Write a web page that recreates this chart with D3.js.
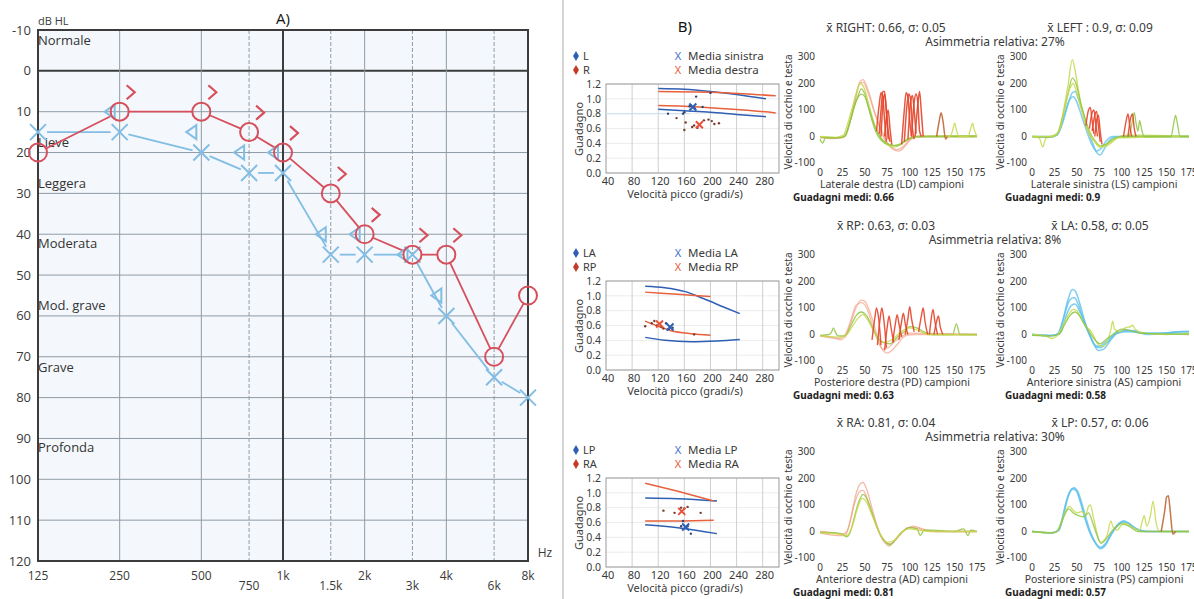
<!DOCTYPE html>
<html lang="en">
<head>
<meta charset="utf-8">
<title>Audiogramma e vHIT</title>
<script src="https://d3js.org/d3.v7.min.js"></script>
<style>
  body { margin: 0; background: #ffffff; }
  svg { display: block; }
  .aud text { font-family: "Open Sans", sans-serif; fill: #3a3a3a; }
  .vh text { font-family: "Noto Sans", "Open Sans", sans-serif; fill: #3a3a3a; }
</style>
</head>
<body>
<script>
// ---------- A) audiogram data ----------
var freqs = [125, 250, 500, 750, 1000, 1500, 2000, 3000, 4000, 6000, 8000];
var rightAC = [20, 10, 10, 15, 20, 30, 40, 45, 45, 70, 55];   // red circles
var leftAC = [15, 15, 20, 25, 25, 45, 45, 45, 60, 75, 80];    // blue crosses
var boneFreqs = [250, 500, 750, 1000, 1500, 2000, 3000, 4000];
var rightBC = [5, 5, 10, 15, 25, 35, 40, 40];                 // red >
var leftBC = [10, 15, 20, 20, 40, 40, 45, 55];                // blue <
var dbTicks = [-10, 0, 10, 20, 30, 40, 50, 60, 70, 80, 90, 100, 110, 120];
var mainFreqs = [125, 250, 500, 1000, 2000, 4000, 8000];
var mainFreqLabels = ["125", "250", "500", "1k", "2k", "4k", "8k"];
var midFreqs = [750, 1500, 3000, 6000];
var midFreqLabels = ["750", "1.5k", "3k", "6k"];
var classNames = ["Normale", "Lieve", "Leggera", "Moderata", "Mod. grave", "Grave", "Profonda"];
var classLevels = [-7.5, 17.5, 27.5, 42.2, 57.5, 72.5, 92.3];

// ---------- B) gain scatter data [velocity, gain] ----------
var velTicks = [40, 80, 120, 160, 200, 240, 280];
var gainTicks = [0, 0.2, 0.4, 0.6, 0.8, 1.0, 1.2];

var g1Legend = ["L", "R", "Media sinistra", "Media destra"];
var g1BlueUp = [[120, 1.14], [160, 1.13], [200, 1.1], [240, 1.06], [285, 1.0]];
var g1RedUp = [[120, 1.1], [200, 1.09], [250, 1.07], [300, 1.04]];
var g1BlueLow = [[120, 0.86], [160, 0.84], [200, 0.82], [240, 0.79], [285, 0.76]];
var g1RedLow = [[120, 0.91], [160, 0.9], [200, 0.88], [250, 0.85], [300, 0.81]];
var g1DotsL = [[135, 0.8], [158, 0.8], [160, 0.82], [170, 0.91], [176, 0.87], [168, 0.9], [178, 1.03], [188, 0.89], [200, 1.08]];
var g1DotsR = [[148, 0.74], [162, 0.68], [160, 0.58], [172, 0.62], [175, 0.64], [180, 0.61], [190, 0.71], [197, 0.72], [202, 0.7], [206, 0.66], [213, 0.67]];
var g1MeanL = [173, 0.89], g1MeanR = [183, 0.65];

var g2Legend = ["LA", "RP", "Media LA", "Media RP"];
var g2BlueUp = [[100, 1.13], [130, 1.11], [160, 1.06], [190, 0.96], [220, 0.85], [245, 0.76]];
var g2RedUp = [[100, 1.05], [150, 1.02], [200, 0.99]];
var g2BlueLow = [[100, 0.44], [130, 0.4], [170, 0.38], [210, 0.39], [245, 0.41]];
var g2RedLow = [[100, 0.66], [120, 0.59], [140, 0.53], [170, 0.49], [200, 0.47]];
var g2DotsL = [[132, 0.63], [136, 0.55], [142, 0.57]];
var g2DotsR = [[100, 0.59], [110, 0.63], [114, 0.66], [118, 0.6], [125, 0.58], [128, 0.56], [175, 0.48]];
var g2MeanL = [138, 0.58], g2MeanR = [122, 0.62];

var g3Legend = ["LP", "RA", "Media LP", "Media RA"];
var g3BlueUp = [[100, 0.93], [150, 0.92], [210, 0.89]];
var g3RedUp = [[100, 1.13], [150, 1.02], [205, 0.89]];
var g3BlueLow = [[100, 0.57], [150, 0.53], [210, 0.45]];
var g3RedLow = [[100, 0.62], [150, 0.62], [205, 0.63]];
var g3DotsL = [[158, 0.62], [165, 0.55], [170, 0.45], [155, 0.55]];
var g3DotsR = [[128, 0.76], [145, 0.73], [155, 0.8], [160, 0.79], [165, 0.81], [185, 0.73]];
var g3MeanL = [162, 0.54], g3MeanR = [156, 0.75];

// ---------- B) impulse traces [sample, deg/s] ----------
var sampleTicks = [0, 25, 50, 75, 100, 125, 150, 175];
var velTraceTicks = [-100, 0, 100, 200, 300];

var ldEye = [
  [[0,-5],[15,-8],[25,-5],[30,20],[35,80],[40,150],[45,210],[48,215],[52,190],[56,150],[60,100],[64,60],[68,20],[72,-10],[78,-35],[85,-50],[90,-45],[95,-30],[100,-10],[105,0],[120,0],[175,0]],
  [[0,-3],[20,-5],[28,5],[33,50],[38,120],[44,200],[48,205],[53,170],[58,120],[63,70],[68,30],[74,-20],[80,-45],[88,-55],[94,-40],[100,-15],[108,0],[175,0]]
];
var ldHead = [
  [[0,-2],[20,-4],[27,0],[32,40],[37,100],[42,150],[46,180],[50,160],[54,110],[58,60],[62,20],[66,-5],[72,-25],[80,-35],[88,-30],[95,-15],[102,-3],[110,0],[175,0]],
  [[0,0],[18,-3],[26,5],[31,50],[36,110],[41,170],[45,200],[49,185],[53,140],[57,90],[61,40],[66,5],[72,-20],[82,-40],[90,-30],[98,-10],[106,0],[175,0]],
  [[0,-10],[3,-25],[6,-5],[20,-5],[28,0],[34,60],[40,130],[46,160],[50,150],[55,100],[60,50],[65,10],[70,-15],[78,-30],[86,-35],[94,-20],[102,-5],[112,0],[175,2]],
  [[140,0],[145,0],[148,25],[150,50],[152,25],[155,0],[165,0],[168,30],[170,50],[172,25],[175,0]]
];
var ldSac = [
  [[63,20],[66,120],[68,165],[70,150],[72,60],[74,-20]],
  [[66,10],[68,100],[70,170],[72,170],[74,90],[76,-10]],
  [[68,0],[70,120],[72,160],[74,100],[76,20],[78,-20]],
  [[72,0],[74,70],[76,100],[78,30],[80,-30]],
  [[91,-30],[94,100],[96,165],[98,150],[100,60],[102,0]],
  [[94,-20],[97,120],[99,160],[101,140],[103,30],[105,-10]],
  [[98,-10],[101,130],[103,155],[105,100],[107,10]],
  [[102,0],[105,130],[107,160],[109,130],[111,20],[113,0]],
  [[106,0],[109,120],[111,170],[113,90],[115,0]]
];
var ldLate = [[[130,0],[133,60],[135,90],[137,60],[140,-10],[142,0]]];

var lsEye = [
  [[0,-2],[20,-3],[28,5],[34,50],[40,120],[45,165],[48,170],[52,140],[57,90],[62,30],[67,-20],[72,-60],[76,-70],[80,-50],[85,-20],[90,-5],[100,0],[175,0]],
  [[0,0],[22,0],[30,20],[36,80],[42,140],[46,150],[50,130],[55,80],[60,30],[66,-25],[72,-55],[77,-45],[83,-15],[90,0],[175,0]]
];
var lsHead = [
  [[0,0],[8,-5],[12,-40],[15,-10],[20,0],[28,10],[34,80],[40,190],[45,290],[48,250],[52,170],[56,100],[60,40],[65,0],[70,-20],[75,-40],[80,-35],[88,-20],[95,-5],[105,5],[120,5],[175,0]],
  [[0,0],[20,-2],[28,8],[34,70],[40,160],[45,220],[49,200],[54,130],[59,70],[64,20],[70,-15],[76,-35],[82,-30],[90,-10],[100,0],[175,0]],
  [[0,0],[22,0],[30,20],[36,100],[42,180],[46,200],[51,150],[56,90],[61,40],[67,0],[73,-30],[80,-40],[88,-25],[96,-5],[175,0]],
  [[100,0],[108,0],[112,60],[114,90],[116,50],[118,20],[120,60],[122,30],[125,0],[155,0],[158,50],[160,80],[162,50],[165,0],[175,0]]
];
var lsSac = [
  [[60,40],[63,100],[65,110],[67,60],[69,10]],
  [[64,30],[67,90],[69,100],[71,50],[73,0]],
  [[67,20],[70,80],[72,95],[74,40],[76,-20]],
  [[70,0],[72,60],[74,80],[76,20],[78,-30]],
  [[102,0],[105,60],[107,85],[109,40],[111,0]],
  [[107,0],[110,70],[112,85],[114,30],[116,0]]
];

var pdEye = [
  [[0,-5],[15,-10],[22,-20],[28,-10],[34,40],[40,100],[46,130],[50,125],[55,90],[60,40],[65,-20],[70,-60],[75,-70],[80,-60],[88,-30],[95,-5],[105,0],[175,0]],
  [[0,-5],[20,-15],[28,0],[34,50],[40,110],[46,120],[52,100],[58,40],[64,-20],[70,-55],[76,-50],[84,-25],[92,-5],[100,5],[175,0]]
];
var pdHead = [
  [[0,-3],[10,0],[13,10],[15,25],[17,10],[20,-5],[28,-5],[34,30],[40,70],[46,85],[52,70],[58,30],[64,-10],[70,-30],[78,-35],[86,-10],[94,10],[100,30],[108,25],[116,10],[125,0],[148,0],[152,40],[156,0],[175,0]],
  [[0,-5],[22,-10],[30,0],[36,30],[42,60],[48,75],[54,50],[60,10],[66,-20],[72,-30],[80,-20],[90,10],[100,25],[110,15],[120,0],[175,-2]]
];
var pdSac = [
  [[58,-20],[61,60],[63,100],[65,70],[68,-40]],
  [[64,-40],[67,60],[69,100],[71,60],[74,-50]],
  [[72,-60],[75,30],[77,70],[79,30],[82,-30]],
  [[81,-30],[84,40],[86,75],[88,40],[91,-10]],
  [[88,-20],[91,50],[93,80],[95,40],[98,0]],
  [[95,0],[98,60],[100,105],[102,60],[105,10]],
  [[110,10],[113,70],[115,100],[117,50],[120,0]],
  [[122,0],[124,60],[126,95],[128,50],[131,0]],
  [[127,0],[130,50],[132,70],[134,30],[137,0]]
];

var asEye = [
  [[0,0],[20,-5],[28,0],[34,50],[40,130],[45,170],[48,165],[53,120],[58,60],[63,10],[68,-30],[74,-60],[80,-55],[88,-20],[95,5],[105,15],[115,10],[130,0],[150,5],[165,10],[175,10]],
  [[0,0],[22,-5],[30,5],[36,70],[42,130],[47,140],[52,110],[58,50],[64,0],[70,-40],[76,-50],[84,-30],[92,0],[102,15],[112,15],[125,5],[145,5],[160,10],[175,12]],
  [[0,0],[24,-3],[32,10],[38,70],[44,110],[48,115],[54,80],[60,30],[66,-15],[72,-45],[78,-40],[86,-15],[95,5],[108,10],[130,5],[175,5]]
];
var asHead = [
  [[0,0],[15,-5],[22,-15],[28,-5],[34,30],[40,70],[46,95],[50,90],[55,60],[60,30],[64,20],[68,0],[74,-40],[78,-45],[84,-25],[88,20],[90,50],[92,20],[98,10],[104,25],[110,30],[112,35],[115,20],[125,5],[150,0],[175,5]],
  [[0,-3],[20,-5],[30,0],[36,35],[42,70],[48,85],[53,70],[58,40],[64,10],[70,-20],[76,-35],[82,-20],[90,0],[100,20],[110,15],[120,5],[175,0]]
];

var adEye = [
  [[0,0],[15,-5],[25,-10],[30,0],[35,60],[40,140],[45,180],[48,185],[52,160],[57,100],[62,40],[67,-10],[72,-40],[77,-55],[82,-40],[90,-10],[98,15],[105,15],[115,5],[130,0],[175,0]],
  [[0,-5],[20,-15],[28,-15],[33,30],[38,100],[44,150],[48,155],[53,120],[58,70],[63,20],[68,-20],[74,-45],[80,-45],[88,-15],[96,10],[104,20],[114,10],[128,0],[175,0]]
];
var adHead = [
  [[0,-3],[18,-5],[25,-10],[30,-20],[34,0],[38,50],[43,110],[48,140],[52,125],[57,80],[62,30],[67,-10],[72,-35],[78,-50],[84,-30],[92,0],[100,15],[108,10],[112,-15],[116,5],[125,5],[150,0],[160,10],[165,-15],[168,5],[175,0]],
  [[0,-5],[22,-10],[30,-15],[36,20],[42,90],[47,125],[52,110],[57,70],[63,20],[68,-15],[75,-40],[82,-35],[90,-5],[100,10],[110,5],[125,0],[175,0]]
];

var psEye = [
  [[0,0],[20,-5],[28,0],[33,40],[38,110],[43,155],[47,165],[51,150],[56,100],[61,40],[66,-10],[71,-45],[76,-65],[81,-55],[87,-20],[93,15],[99,35],[105,35],[112,20],[120,5],[130,0],[175,0]],
  [[0,0],[22,-5],[30,5],[35,60],[40,130],[45,160],[49,155],[54,110],[59,50],[64,0],[70,-40],[76,-60],[82,-45],[88,-10],[95,20],[102,40],[108,30],[116,10],[125,0],[175,0]]
];
var psHead = [
  [[0,0],[20,-5],[28,0],[33,40],[38,80],[42,95],[46,80],[50,70],[55,75],[60,65],[63,95],[65,100],[68,60],[72,0],[76,-40],[80,-35],[84,-10],[88,40],[90,20],[95,5],[100,25],[105,30],[112,15],[120,5],[123,40],[125,60],[128,20],[132,60],[135,115],[138,40],[142,0],[175,0]],
  [[0,0],[24,-5],[30,10],[36,60],[41,85],[46,70],[52,60],[58,55],[63,70],[67,40],[72,-10],[77,-45],[82,-30],[90,5],[100,30],[108,20],[118,0],[175,0]]
];
var psSac = [[[144,0],[148,80],[150,130],[152,135],[154,80],[157,-10],[160,0]]];

var rowTitlesL = ["x\u0304 RIGHT: 0.66, \u03c3: 0.05", "x\u0304 RP: 0.63, \u03c3: 0.03", "x\u0304 RA: 0.81, \u03c3: 0.04"];
var rowTitlesR = ["x\u0304  LEFT  : 0.9, \u03c3: 0.09", "x\u0304 LA: 0.58, \u03c3: 0.05", "x\u0304 LP: 0.57, \u03c3: 0.06"];
var asymmetry = ["Asimmetria relativa: 27%", "Asimmetria relativa: 8%", "Asimmetria relativa: 30%"];
var traceNamesL = ["Laterale destra (LD) campioni", "Posteriore destra (PD) campioni", "Anteriore destra (AD) campioni"];
var traceNamesR = ["Laterale sinistra (LS) campioni", "Anteriore sinistra (AS) campioni", "Posteriore sinistra (PS) campioni"];
var gainsL = ["Guadagni medi: 0.66", "Guadagni medi: 0.63", "Guadagni medi: 0.81"];
var gainsR = ["Guadagni medi: 0.9", "Guadagni medi: 0.58", "Guadagni medi: 0.57"];

// colours
var audRed = "#d5505c", audBlue = "#82bde4";
var curveBlue = "#2f5fb3", curveRed = "#e8603c";
var eyeSalmon = "#f2a186", eyeBlue = "#5cc1ea", headGreen = "#8fc640", headYellow = "#c6d84c", sacRed = "#e4442a", sacBrown = "#b8602c";

var svg = d3.select("body").append("svg")
  .attr("width", 1194).attr("height", 599);

// ================= A) audiogram =================
var aud = svg.append("g").attr("class", "aud");
var ax = d3.scaleLog().domain([125, 8000]).range([38, 528]);
var ay = d3.scaleLinear().domain([-10, 120]).range([30, 561]);

aud.append("rect")
  .attr("x", ax(125)).attr("y", ay(-10))
  .attr("width", ax(8000) - ax(125)).attr("height", ay(120) - ay(-10))
  .attr("fill", "#f4f8fc");

// horizontal grid
aud.selectAll(".hgrid")
  .data(dbTicks.filter(function(d) { return d > -10 && d < 120; }))
  .enter().append("line")
  .attr("x1", ax(125)).attr("x2", ax(8000))
  .attr("y1", function(d) { return ay(d); }).attr("y2", function(d) { return ay(d); })
  .attr("stroke", function(d) { return d === 0 ? "#3c3c3c" : "#8f9ba5"; })
  .attr("stroke-width", function(d) { return d === 0 ? 2 : 1; });

// vertical grid
aud.selectAll(".vgrid")
  .data(freqs.filter(function(d) { return d > 125 && d < 8000; }))
  .enter().append("line")
  .attr("x1", function(d) { return ax(d); }).attr("x2", function(d) { return ax(d); })
  .attr("y1", ay(-10)).attr("y2", ay(120))
  .attr("stroke", function(d) { return d === 1000 ? "#3c3c3c" : "#8f9ba5"; })
  .attr("stroke-width", function(d) { return d === 1000 ? 2 : 1; })
  .attr("stroke-dasharray", function(d) { return midFreqs.indexOf(d) >= 0 ? "4,2" : null; });

// frame
aud.append("rect")
  .attr("x", ax(125)).attr("y", ay(-10))
  .attr("width", ax(8000) - ax(125)).attr("height", ay(120) - ay(-10))
  .attr("fill", "none").attr("stroke", "#3c3c3c").attr("stroke-width", 2);

// y ticks
aud.selectAll(".ylab").data(dbTicks).enter().append("text")
  .attr("x", 31).attr("y", function(d) { return ay(d); })
  .attr("dy", "0.35em").attr("text-anchor", "end")
  .style("font-size", "13px").text(function(d) { return d; });

aud.append("text").attr("x", 38).attr("y", 25).style("font-size", "11px").text("dB HL");
aud.append("text").attr("x", 545).attr("y", 557).attr("text-anchor", "middle").style("font-size", "12px").text("Hz");
aud.append("text").attr("x", 283).attr("y", 24).attr("text-anchor", "middle").style("font-size", "15px").style("fill", "#111").text("A)");

// x ticks
aud.selectAll(".xlab1").data(mainFreqs).enter().append("text")
  .attr("x", function(d) { return ax(d); }).attr("y", 580)
  .attr("text-anchor", "middle").style("font-size", "12px")
  .text(function(d, i) { return mainFreqLabels[i]; });
aud.selectAll(".xlab2").data(midFreqs).enter().append("text")
  .attr("x", function(d) { return ax(d); }).attr("y", 590)
  .attr("text-anchor", "middle").style("font-size", "12px")
  .text(function(d, i) { return midFreqLabels[i]; });

// hearing-loss classes
aud.selectAll(".cls").data(classNames).enter().append("text")
  .attr("x", 38).attr("y", function(d, i) { return ay(classLevels[i]); })
  .attr("dy", "0.35em").style("font-size", "13px").style("fill", "#333")
  .text(function(d) { return d; });

// connecting lines that stop at the symbols
function gapLines(g, xs, ys, color, gap) {
  for (var i = 0; i < xs.length - 1; i++) {
    var x1 = ax(xs[i]), y1 = ay(ys[i]), x2 = ax(xs[i + 1]), y2 = ay(ys[i + 1]);
    var len = Math.sqrt((x2 - x1) * (x2 - x1) + (y2 - y1) * (y2 - y1));
    var ux = (x2 - x1) / len, uy = (y2 - y1) / len;
    g.append("line")
      .attr("x1", x1 + ux * gap).attr("y1", y1 + uy * gap)
      .attr("x2", x2 - ux * gap).attr("y2", y2 - uy * gap)
      .attr("stroke", color).attr("stroke-width", 1.8);
  }
}
gapLines(aud, freqs, leftAC, audBlue, 9);
gapLines(aud, freqs, rightAC, audRed, 9);

// bone conduction symbols
aud.selectAll(".bcL").data(boneFreqs).enter().append("path")
  .attr("transform", function(d, i) { return "translate(" + (ax(d) - 10) + "," + ay(leftBC[i]) + ")"; })
  .attr("d", "M5,-7L-5,0L5,7Z")
  .attr("fill", "none").attr("stroke", audBlue).attr("stroke-width", 2);
aud.selectAll(".bcR").data(boneFreqs).enter().append("path")
  .attr("transform", function(d, i) { return "translate(" + (ax(d) + 11) + "," + (ay(rightBC[i]) + 1) + ")"; })
  .attr("d", "M-4,-7L4,0L-4,7")
  .attr("fill", "none").attr("stroke", audRed).attr("stroke-width", 2.2);

// air conduction symbols
aud.selectAll(".acL").data(freqs).enter().append("path")
  .attr("transform", function(d, i) { return "translate(" + ax(d) + "," + ay(leftAC[i]) + ")"; })
  .attr("d", "M-8,-8L8,8M-8,8L8,-8")
  .attr("fill", "none").attr("stroke", audBlue).attr("stroke-width", 2);
aud.selectAll(".acR").data(freqs).enter().append("circle")
  .attr("cx", function(d) { return ax(d); })
  .attr("cy", function(d, i) { return ay(rightAC[i]); })
  .attr("r", 9)
  .attr("fill", "none").attr("stroke", audRed).attr("stroke-width", 2);

// separator between A and B
svg.append("line").attr("x1", 563).attr("x2", 563).attr("y1", 0).attr("y2", 599)
  .attr("stroke", "#c8c8c8").attr("stroke-width", 1.5);

// ================= B) vHIT =================
var vh = svg.append("g").attr("class", "vh");
vh.append("text").attr("x", 685).attr("y", 32).attr("text-anchor", "middle")
  .style("font-size", "15px").style("fill", "#111").text("B)");

var rowOff = [0, 197, 394];
var traceOff = [0, 198, 395];

function drawScatter(r, legend, blueUp, redUp, blueLow, redLow, dotsL, dotsR, meanL, meanR) {
  var off = rowOff[r];
  var g = vh.append("g");
  var sx = d3.scaleLinear().domain([40, 305]).range([606, 779]);
  var sy = d3.scaleLinear().domain([0, 1.2]).range([173 + off, 84 + off]);

  g.append("rect").attr("x", sx(40)).attr("y", sy(1.2))
    .attr("width", sx(305) - sx(40)).attr("height", sy(0) - sy(1.2))
    .attr("fill", "#fff");
  g.selectAll(".hg").data(gainTicks).enter().append("line")
    .attr("x1", sx(40)).attr("x2", sx(305))
    .attr("y1", function(d) { return sy(d); }).attr("y2", function(d) { return sy(d); })
    .attr("stroke", "#ececec");
  g.selectAll(".vg").data(velTicks.slice(1)).enter().append("line")
    .attr("x1", function(d) { return sx(d); }).attr("x2", function(d) { return sx(d); })
    .attr("y1", sy(0)).attr("y2", sy(1.2))
    .attr("stroke", "#cfcfcf");
  g.append("rect").attr("x", sx(40)).attr("y", sy(1.2))
    .attr("width", sx(305) - sx(40)).attr("height", sy(0) - sy(1.2))
    .attr("fill", "none").attr("stroke", "#9a9a9a");
  if (r === 0) {
    g.append("line").attr("x1", sx(40)).attr("x2", sx(168))
      .attr("y1", sy(0.8)).attr("y2", sy(0.8))
      .attr("stroke", "#cfe2f2").attr("stroke-width", 1.2);
  }

  g.selectAll(".yl").data(gainTicks).enter().append("text")
    .attr("x", 601).attr("y", function(d) { return sy(d); }).attr("dy", "0.35em")
    .attr("text-anchor", "end").style("font-size", "10.5px")
    .text(function(d) { return d3.format(".1f")(d); });
  g.selectAll(".xl").data(velTicks).enter().append("text")
    .attr("x", function(d) { return sx(d) + 2; }).attr("y", 185 + off)
    .attr("text-anchor", "middle").style("font-size", "11px")
    .text(function(d) { return d; });
  g.append("text").attr("transform", "translate(583," + (129 + off) + ") rotate(-90)")
    .attr("text-anchor", "middle").style("font-size", "11px").text("Guadagno");
  g.append("text").attr("x", 685).attr("y", 198 + off).attr("text-anchor", "middle")
    .style("font-size", "11px").text("Velocit\u00e0 picco (gradi/s)");

  // legend
  var legY = [56 + off, 70 + off];
  var diamond = d3.symbol().type(d3.symbolDiamond).size(30);
  [curveBlue, "#c43a26"].forEach(function(c, i) {
    g.append("path").attr("d", diamond()).attr("transform", "translate(576," + legY[i] + ")").attr("fill", c);
    g.append("text").attr("x", 583).attr("y", legY[i]).attr("dy", "0.35em")
      .style("font-size", "11px").text(legend[i]);
  });
  ["#3d6fcb", "#ea5a3c"].forEach(function(c, i) {
    g.append("text").attr("x", 678).attr("y", legY[i]).attr("dy", "0.35em")
      .attr("text-anchor", "middle").style("font-size", "11px").style("fill", c).text("X");
    g.append("text").attr("x", 688).attr("y", legY[i]).attr("dy", "0.35em")
      .style("font-size", "11.5px").text(legend[i + 2]);
  });

  var line = d3.line().x(function(d) { return sx(d[0]); }).y(function(d) { return sy(d[1]); })
    .curve(d3.curveMonotoneX);
  [[blueUp, curveBlue], [redUp, curveRed], [blueLow, curveBlue], [redLow, curveRed]].forEach(function(p) {
    g.append("path").attr("d", line(p[0])).attr("fill", "none")
      .attr("stroke", p[1]).attr("stroke-width", 1.5);
  });

  g.selectAll(".dl").data(dotsL).enter().append("circle")
    .attr("cx", function(d) { return sx(d[0]); }).attr("cy", function(d) { return sy(d[1]); })
    .attr("r", 1.2).attr("fill", "#33456e");
  g.selectAll(".dr").data(dotsR).enter().append("circle")
    .attr("cx", function(d) { return sx(d[0]); }).attr("cy", function(d) { return sy(d[1]); })
    .attr("r", 1.2).attr("fill", "#7a3a2c");

  var cross = "M-3.5,-3.5L3.5,3.5M-3.5,3.5L3.5,-3.5";
  [[meanL, "#2f5fb3"], [meanR, "#e8503a"]].forEach(function(p) {
    g.append("path").attr("d", cross)
      .attr("transform", "translate(" + sx(p[0][0]) + "," + sy(p[0][1]) + ")")
      .attr("stroke", p[1]).attr("stroke-width", 2).attr("fill", "none");
  });
}

drawScatter(0, g1Legend, g1BlueUp, g1RedUp, g1BlueLow, g1RedLow, g1DotsL, g1DotsR, g1MeanL, g1MeanR);
drawScatter(1, g2Legend, g2BlueUp, g2RedUp, g2BlueLow, g2RedLow, g2DotsL, g2DotsR, g2MeanL, g2MeanR);
drawScatter(2, g3Legend, g3BlueUp, g3RedUp, g3BlueLow, g3RedLow, g3DotsL, g3DotsR, g3MeanL, g3MeanR);

function drawTraces(r, side, groups, name, gain) {
  var off = traceOff[r];
  var x0 = side === 0 ? 820 : 1032;
  var g = vh.append("g");
  var tx = d3.scaleLinear().domain([0, 175]).range([x0, x0 + 157]);
  var ty = d3.scaleLinear().domain([-100, 300]).range([163 + off, 57 + off]);

  g.selectAll(".yl").data(velTraceTicks).enter().append("text")
    .attr("x", x0 - 5).attr("y", function(d) { return ty(d); }).attr("dy", "0.3em")
    .attr("text-anchor", "end").style("font-size", "10px")
    .text(function(d) { return d; });
  g.selectAll(".xl").data(sampleTicks).enter().append("text")
    .attr("x", function(d) { return tx(d); }).attr("y", 176 + off)
    .attr("text-anchor", "middle").style("font-size", "10px")
    .text(function(d) { return d; });
  g.append("text").attr("transform", "translate(" + (x0 - 28) + "," + (112 + off) + ") rotate(-90)")
    .attr("text-anchor", "middle").style("font-size", "10px").text("Velocit\u00e0 di occhio e testa");
  g.append("text").attr("x", x0 + 72).attr("y", 188 + off).attr("text-anchor", "middle")
    .style("font-size", "10.5px").text(name);
  g.append("text").attr("x", x0 - 27).attr("y", 201 + off)
    .style("font-size", "10px").style("font-weight", "bold").style("fill", "#222").text(gain);

  var line = d3.line().x(function(d) { return tx(d[0]); }).y(function(d) { return ty(d[1]); })
    .curve(d3.curveMonotoneX);
  groups.forEach(function(grp) {
    grp.traces.forEach(function(t, i) {
      var c = Array.isArray(grp.color) ? grp.color[i % grp.color.length] : grp.color;
      g.append("path").attr("d", line(t)).attr("fill", "none")
        .attr("stroke", c).attr("stroke-width", grp.width || 1.3)
        .attr("stroke-opacity", grp.opacity || 0.85);
    });
  });
}

function titles(r) {
  var off = traceOff[r];
  vh.append("text").attr("x", 886).attr("y", 32 + off).attr("text-anchor", "middle")
    .style("font-size", "12px").text(rowTitlesL[r]);
  vh.append("text").attr("x", 1100).attr("y", 32 + off).attr("text-anchor", "middle")
    .style("font-size", "12px").text(rowTitlesR[r]);
  vh.append("text").attr("x", 995).attr("y", 46 + off).attr("text-anchor", "middle")
    .style("font-size", "12px").text(asymmetry[r]);
}
titles(0); titles(1); titles(2);

drawTraces(0, 0, [
  { traces: ldEye, color: eyeSalmon, opacity: 0.7 },
  { traces: ldHead, color: [headGreen, headYellow, headGreen, headYellow] },
  { traces: ldSac, color: sacRed, width: 1.5, opacity: 0.9 },
  { traces: ldLate, color: sacBrown, width: 1.5 }
], traceNamesL[0], gainsL[0]);
drawTraces(0, 1, [
  { traces: lsEye, color: eyeBlue, width: 1.6, opacity: 0.75 },
  { traces: lsHead, color: [headYellow, headGreen, headYellow, headGreen] },
  { traces: lsSac, color: sacRed, width: 1.4, opacity: 0.9 }
], traceNamesR[0], gainsR[0]);

drawTraces(1, 0, [
  { traces: pdEye, color: eyeSalmon, opacity: 0.7 },
  { traces: pdHead, color: [headGreen, headYellow] },
  { traces: pdSac, color: sacRed, width: 1.4, opacity: 0.9 }
], traceNamesL[1], gainsL[1]);
drawTraces(1, 1, [
  { traces: asEye, color: eyeBlue, width: 1.5, opacity: 0.8 },
  { traces: asHead, color: [headYellow, headGreen] }
], traceNamesR[1], gainsR[1]);

drawTraces(2, 0, [
  { traces: adEye, color: eyeSalmon, opacity: 0.75 },
  { traces: adHead, color: [headGreen, headYellow] }
], traceNamesL[2], gainsL[2]);
drawTraces(2, 1, [
  { traces: psEye, color: eyeBlue, width: 1.7, opacity: 0.8 },
  { traces: psHead, color: [headYellow, headGreen] },
  { traces: psSac, color: sacBrown, width: 1.5 }
], traceNamesR[2], gainsR[2]);
</script>
</body>
</html>
